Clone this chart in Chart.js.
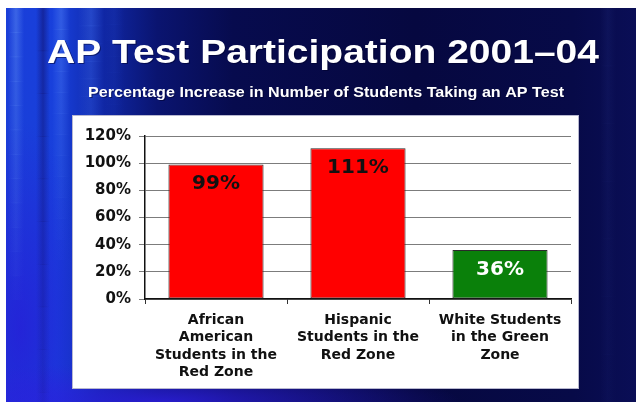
<!DOCTYPE html>
<html>
<head>
<meta charset="utf-8">
<script src="https://cdn.jsdelivr.net/npm/chart.js@4/dist/chart.umd.min.js"></script>
<style>
  html, body { margin: 0; padding: 0; background: #fff; }
  #wrap { width: 636px; height: 402px; }
</style>
</head>
<body>
<div id="wrap"><canvas id="chart" width="636" height="402"></canvas></div>
<script>
// chart values
const categories = [
    ['African', 'American', 'Students in the', 'Red Zone'],
    ['Hispanic', 'Students in the', 'Red Zone'],
    ['White Students', 'in the Green', 'Zone']
];
const increase = [99, 111, 36];
const barColors = ['#ff0000', '#ff0000', '#0a800a'];
const valueColors = ['#111111', '#111111', '#ffffff'];
const titleText = 'AP Test Participation 2001\u201304';
const subtitleText = 'Percentage Increase in Number of Students Taking an AP Test';

const FONT = "'DejaVu Sans', Arial, sans-serif";
const HEAD_FONT = "'Liberation Sans', Arial, sans-serif";

// soft elliptical glow helper
function glow(c, x, y, rx, ry, color, alpha) {
    c.save();
    c.translate(x, y);
    c.scale(1, ry / rx);
    const g = c.createRadialGradient(0, 0, 0, 0, 0, rx);
    g.addColorStop(0, 'rgba(' + color + ',' + alpha + ')');
    g.addColorStop(1, 'rgba(' + color + ',0)');
    c.fillStyle = g;
    c.fillRect(-rx, -rx, rx * 2, rx * 2);
    c.restore();
}

// soft vertical streak, fading out towards its lower end
function streak(c, x, w, color, alpha, top, bottom) {
    c.save();
    c.beginPath();
    c.rect(x, top, w, bottom - top);
    c.clip();
    const steps = 12;
    const h = (bottom - top) / steps;
    for (let i = 0; i < steps; i++) {
        const a = alpha * (1 - i / steps);
        const g = c.createLinearGradient(x, 0, x + w, 0);
        g.addColorStop(0, 'rgba(' + color + ',0)');
        g.addColorStop(0.5, 'rgba(' + color + ',' + a.toFixed(3) + ')');
        g.addColorStop(1, 'rgba(' + color + ',0)');
        c.fillStyle = g;
        c.fillRect(x, top + i * h, w, h + 0.5);
    }
    c.restore();
}

// slide background + white chart panel
const slideBg = {
    id: 'slideBg',
    beforeDraw(chart) {
        const c = chart.ctx;
        const W = chart.width, H = chart.height;
        c.save();
        c.fillStyle = '#ffffff';
        c.fillRect(0, 0, W, H);
        c.beginPath();
        c.rect(6, 8, W - 6, H - 8);
        c.clip();

        let g = c.createLinearGradient(6, 0, W, 0);
        g.addColorStop(0, '#1a3ed8');
        g.addColorStop(0.08, '#1840dc');
        g.addColorStop(0.15, '#1028a8');
        g.addColorStop(0.24, '#0a1470');
        g.addColorStop(0.36, '#070b4e');
        g.addColorStop(0.65, '#060840');
        g.addColorStop(0.9, '#070a48');
        g.addColorStop(1, '#0a0e56');
        c.fillStyle = g;
        c.fillRect(6, 8, W - 6, H - 8);

        // purple-blue glow down the left and along the bottom
        glow(c, 20, 330, 70, 210, '40,25,215', 0.7);
        glow(c, 160, 402, 300, 40, '45,30,220', 0.85);

        // streaks on the left
        streak(c, 8, 16, '120,170,255', 0.35, 8, 300);
        streak(c, 36, 14, '15,12,100', 0.5, 8, 520);
        streak(c, 52, 18, '110,160,255', 0.3, 8, 260);
        streak(c, 78, 26, '80,130,250', 0.3, 8, 220);
        streak(c, 104, 20, '30,60,190', 0.3, 8, 200);
        streak(c, 600, 16, '30,40,120', 0.25, 8, 700);

        // white panel
        c.fillStyle = '#ffffff';
        c.fillRect(72, 115, 507, 274);
        c.strokeStyle = '#b8b8d0';
        c.lineWidth = 1;
        c.strokeRect(72.5, 115.5, 506, 273);
        c.restore();
    }
};

// slide heading, stretched to the width used on the slide
function drawStretched(c, text, font, left, right, baseline) {
    c.save();
    c.font = font;
    const w = c.measureText(text).width;
    const sx = (right - left) / w;
    c.translate(left, baseline);
    c.scale(sx, 1);
    c.fillStyle = 'rgba(0,0,40,0.5)';
    c.fillText(text, 1, 1);
    c.fillStyle = '#ffffff';
    c.fillText(text, 0, 0);
    c.restore();
}

const heading = {
    id: 'heading',
    afterDraw(chart) {
        const c = chart.ctx;
        c.textAlign = 'left';
        c.textBaseline = 'alphabetic';
        drawStretched(c, titleText, 'bold 33.5px ' + HEAD_FONT, 47, 599, 63);
        drawStretched(c, subtitleText, 'bold 14px ' + HEAD_FONT, 88, 564, 97);
    }
};

// value text inside the top of each bar
const barValues = {
    id: 'barValues',
    afterDatasetsDraw(chart) {
        const c = chart.ctx;
        const meta = chart.getDatasetMeta(0);
        c.save();
        c.font = 'bold 20px ' + FONT;
        c.textAlign = 'center';
        c.textBaseline = 'middle';
        meta.data.forEach((bar, i) => {
            c.fillStyle = valueColors[i];
            c.fillText(increase[i] + '%', bar.x, bar.y + 19.5);
        });
        c.restore();
    }
};

const ctx = document.getElementById('chart');
const chart = new Chart(ctx, {
    type: 'bar',
    data: {
        labels: categories,
        datasets: [
            {
                data: increase,
                backgroundColor: barColors,
                borderColor: '#2a2a2a',
                borderWidth: 1,
                borderSkipped: false,
                categoryPercentage: 1,
                barPercentage: 0.67
            }
        ]
    },
    options: {
        responsive: false,
        animation: false,
        layout: { padding: { left: 72, right: 65, top: 136, bottom: 0 } },
        plugins: {
            legend: { display: false },
            tooltip: { enabled: false },
            title: { display: false }
        },
        scales: {
            y: {
                min: 0,
                max: 120,
                afterFit: function (scale) { scale.width = 73; },
                ticks: {
                    stepSize: 20,
                    color: '#111111',
                    padding: 8,
                    font: { family: FONT, size: 15, weight: 'bold' },
                    callback: function (value) { return value + '%'; }
                },
                grid: { color: '#7c7c7c', lineWidth: 1, tickLength: 6 },
                border: { color: '#111111', width: 1.5 }
            },
            x: {
                afterFit: function (scale) { scale.height = 103; },
                ticks: {
                    color: '#111111',
                    padding: 8,
                    maxRotation: 0,
                    autoSkip: false,
                    font: { family: FONT, size: 14, weight: 'bold', lineHeight: 1.23 }
                },
                grid: { offset: true, drawOnChartArea: false, color: '#333333', tickLength: 5 },
                border: { color: '#111111', width: 1.5 }
            }
        }
    },
    plugins: [slideBg, barValues, heading]
});
</script>
</body>
</html>
